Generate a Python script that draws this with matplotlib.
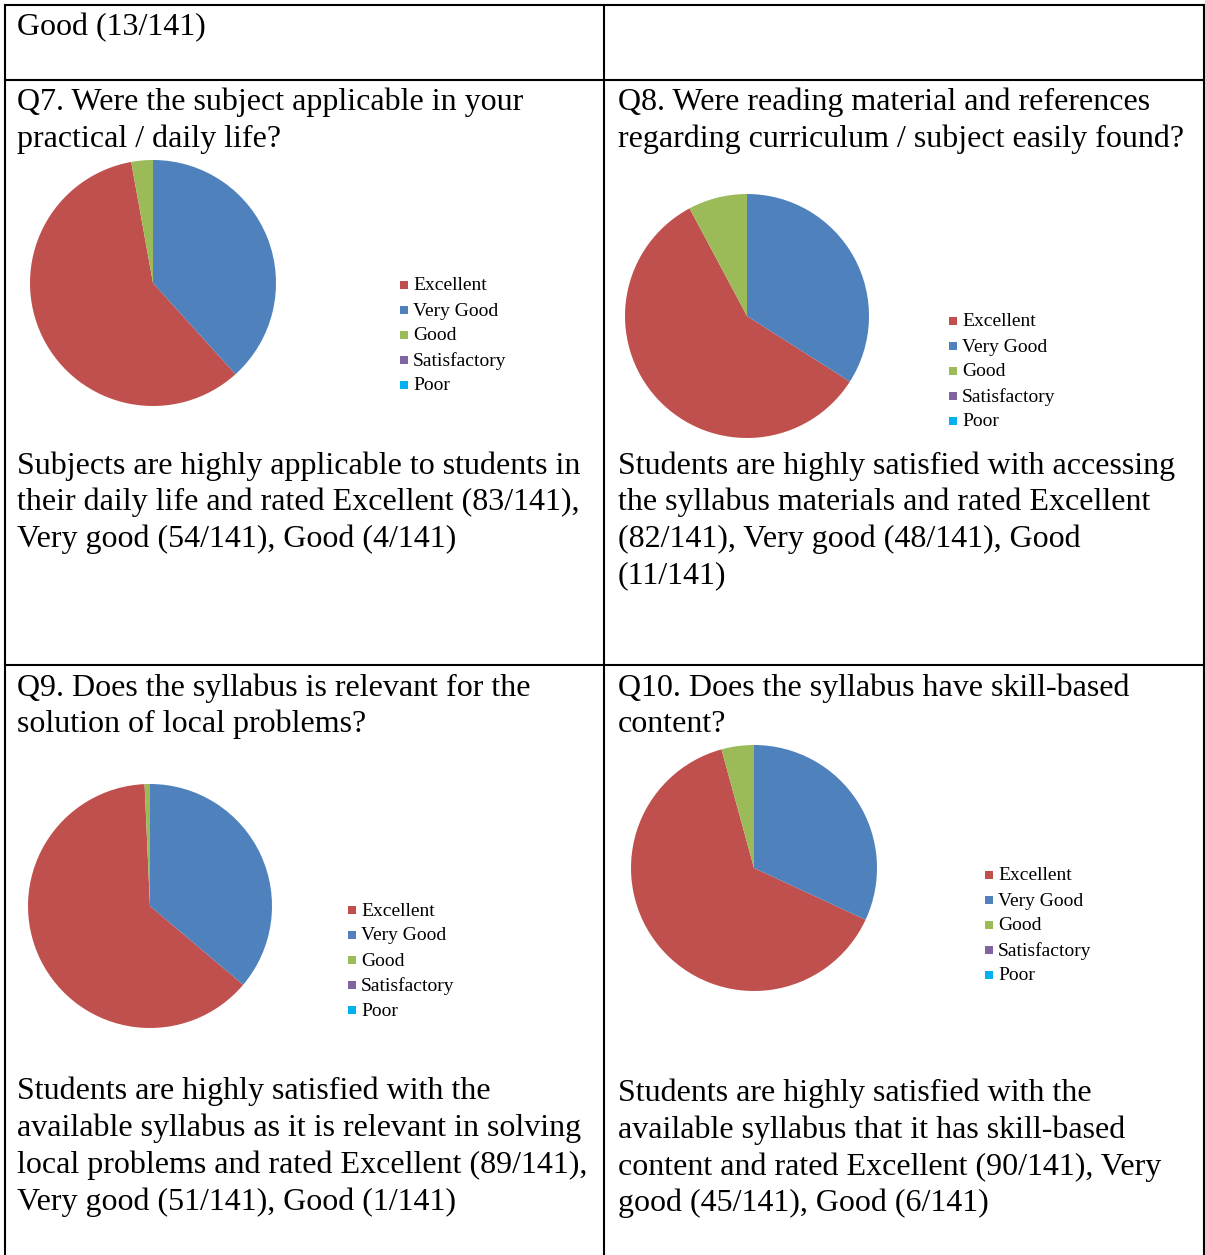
import matplotlib.pyplot as plt
from matplotlib.patches import Rectangle

W, H = 1205, 1255

categories = ['Excellent', 'Very Good', 'Good', 'Satisfactory', 'Poor']
colors = ['#C0504D', '#4F81BD', '#9BBB59', '#8064A2', '#00B0F0']

q7 = [83, 54, 4, 0, 0]
q8 = [82, 48, 11, 0, 0]
q9 = [89, 51, 1, 0, 0]
q10 = [90, 45, 6, 0, 0]

q7_title = ['Q7. Were the subject applicable in your', 'practical / daily life?']
q8_title = ['Q8. Were reading material and references',
            'regarding curriculum / subject easily found?']
q9_title = ['Q9. Does the syllabus is relevant for the', 'solution of local problems?']
q10_title = ['Q10. Does the syllabus have skill-based', 'content?']

q7_text = ['Subjects are highly applicable to students in',
           'their daily life and rated Excellent (83/141),',
           'Very good (54/141), Good (4/141)']
q8_text = ['Students are highly satisfied with accessing',
           'the syllabus materials and rated Excellent',
           '(82/141), Very good (48/141), Good',
           '(11/141)']
q9_text = ['Students are highly satisfied with the',
           'available syllabus as it is relevant in solving',
           'local problems and rated Excellent (89/141),',
           'Very good (51/141), Good (1/141)']
q10_text = ['Students are highly satisfied with the',
            'available syllabus that it has skill-based',
            'content and rated Excellent (90/141), Very',
            'good (45/141), Good (6/141)']

plt.rcParams['font.family'] = ['Liberation Serif', 'DejaVu Serif']

fig = plt.figure(figsize=(W / 100, H / 100), dpi=100)
ax = fig.add_axes([0, 0, 1, 1])


def Y(y):
    return H - y


def lines(x, ys, txt, fs=23):
    for y, t in zip(ys, txt):
        ax.text(x, Y(y + 3), t, fontsize=fs, va='center', ha='left', color='black')


def pie_panel(vals, cx, cy, r, lx, ly):
    start = 90 + 360 * sum(vals[2:]) / sum(vals)
    ax.pie(vals, colors=colors, center=(cx, Y(cy)), radius=r, startangle=start,
           counterclock=True, wedgeprops=dict(linewidth=0), frame=True)
    for i, c in enumerate(categories):
        yy = ly + 25 * i
        ax.add_patch(Rectangle((lx, Y(yy) - 4), 8, 8, color=colors[i], lw=0))
        ax.text(lx + 13, Y(yy + 1), c, fontsize=14, va='center', ha='left')


# table grid
for y in [5, 80, 665]:
    ax.plot([5, 1204], [Y(y), Y(y)], color='black', lw=1.5)
for x in [5, 604, 1204]:
    ax.plot([x, x], [Y(5), Y(H + 2)], color='black', lw=1.5)

lines(17, [25], ['Good (13/141)'])

lines(17, [99, 136], q7_title)
lines(618, [99, 136], q8_title)
lines(17, [685, 721], q9_title)
lines(618, [685, 721], q10_title)

lines(17, [463, 499, 536], q7_text)
lines(618, [463, 499, 536, 573], q8_text)
lines(17, [1088, 1125, 1162, 1199], q9_text)
lines(618, [1090, 1127, 1164, 1200], q10_text)

pie_panel(q7, 153, 283, 123, 400, 285)
pie_panel(q8, 747, 316, 122, 949, 321)
pie_panel(q9, 150, 906, 122, 348, 910)
pie_panel(q10, 754, 868, 123, 985, 875)

ax.set_xlim(0, W)
ax.set_ylim(0, H)
ax.set_aspect('auto')
ax.axis('off')

fig.savefig('out.png', dpi=100)
